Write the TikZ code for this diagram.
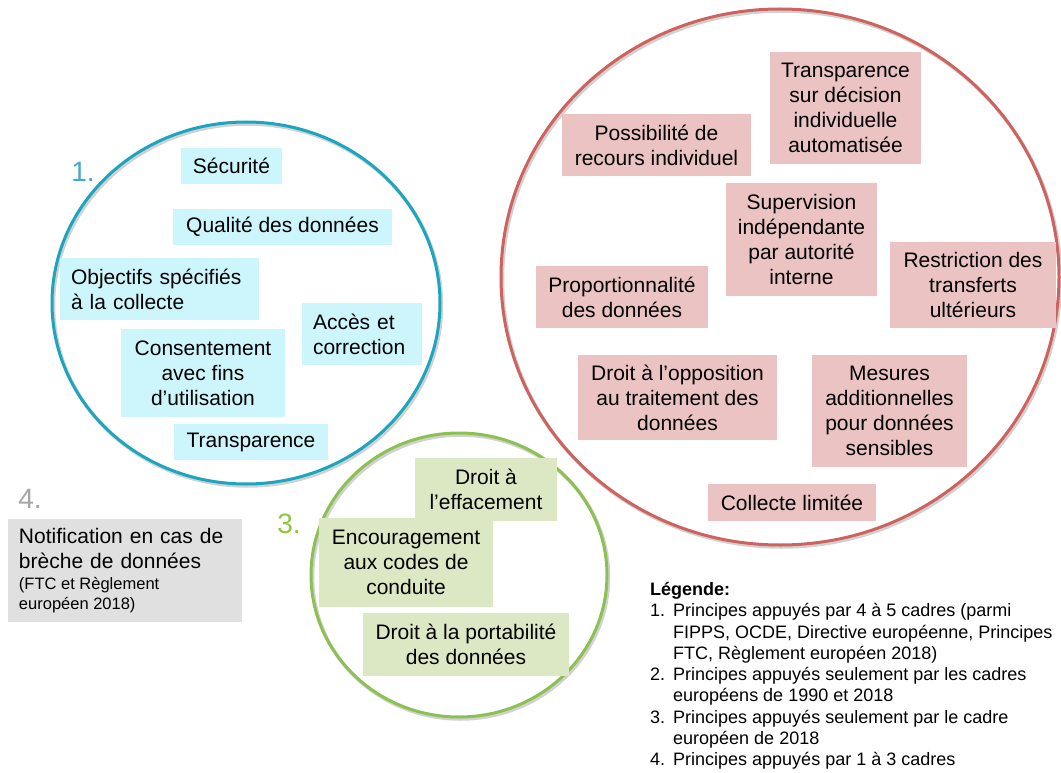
\documentclass[tikz,border=0pt]{standalone}
\usepackage{fontspec}
\setmainfont{Liberation Sans}
\definecolor{bluefill}{HTML}{CCF6FC}
\definecolor{greenfill}{HTML}{DCE8C4}
\definecolor{redfill}{HTML}{EBC3C3}
\definecolor{grayfill}{HTML}{E0E0E0}
\definecolor{blueline}{HTML}{1BA6BD}
\definecolor{greenline}{HTML}{8CC152}
\definecolor{redline}{HTML}{CD625E}
\definecolor{bluelabel}{HTML}{45A9CB}
\definecolor{greenlabel}{HTML}{8DC63F}
\definecolor{graylabel}{HTML}{A6A6A6}
\begin{document}
\begin{tikzpicture}[x=1pt,y=-1pt,
  box/.style={inner sep=0pt, align=center, text=black, font=\fontsize{21}{25}\selectfont},
  leftbox/.style={box, inner xsep=11pt, align=left},
  bluebox/.style={box, fill=bluefill},
  greenbox/.style={box, fill=greenfill},
  redbox/.style={box, fill=redfill},
  graybox/.style={leftbox, fill=grayfill},
  ring/.style={line width=3pt},
  ringshadow/.style={line width=3.5pt, draw=black, opacity=0.18},
  numlabel/.style={inner sep=0pt, font=\fontsize{28}{30}\selectfont}]

\useasboundingbox (0,0) rectangle (1061,773);

% soft shadows under the three rings
\draw[ringshadow] (247.5,305) ellipse [x radius=194pt, y radius=181pt];
\draw[ringshadow] (460.5,577) ellipse [x radius=148pt, y radius=142pt];
\draw[ringshadow] (781.5,279) ellipse [x radius=279pt, y radius=268pt];

% rings
\draw[ring, draw=blueline]  (246,303) ellipse [x radius=194pt, y radius=181pt];
\draw[ring, draw=greenline] (459,575) ellipse [x radius=148pt, y radius=142pt];
\draw[ring, draw=redline]   (780,277) ellipse [x radius=279pt, y radius=268pt];

% group numbers
\node[numlabel, text=bluelabel]  (n1) at (83,172) {1.};
\node[numlabel, text=greenlabel] (n3) at (289,524) {3.};
\node[numlabel, text=graylabel]  (n4) at (30,499) {4.};

% group 1
\node[bluebox, minimum width=101pt, minimum height=36pt] (secu) at (231.5,166) {Sécurité};
\node[bluebox, minimum width=219pt, minimum height=36pt] (qual) at (282.5,227) {Qualité des données};
\node[bluebox, leftbox, text width=177pt, minimum height=62pt] (obj) at (159.5,289) {Objectifs spécifiés\\à la collecte};
\node[bluebox, leftbox, text width=98pt, minimum height=62pt] (acces) at (362,334) {Accès et\\correction};
\node[bluebox, minimum width=164pt, minimum height=88pt] (consent) at (203,373) {Consentement\\avec fins\\d’utilisation};
\node[bluebox, minimum width=154pt, minimum height=36pt] (transp) at (251,442) {Transparence};

% group 4
\node[graybox, text width=212pt, minimum height=103pt] (notif) at (125,570.5)
  {Notification en cas de\\brèche de données\\[-4pt]%
   \parbox[t]{212pt}{\raggedright\spaceskip=0pt\xspaceskip=0pt
     \fontsize{16.5}{20}\selectfont(FTC et Règlement\\européen 2018)}};

% group 3
\node[greenbox, minimum width=142pt, minimum height=63pt] (eff) at (486,489.5) {Droit à\\l’effacement};
\node[greenbox, minimum width=174pt, minimum height=89pt] (enc) at (406,562.5) {Encouragement\\aux codes de\\conduite};
\node[greenbox, minimum width=206pt, minimum height=63pt] (port) at (466,644.5) {Droit à la portabilité\\des données};

% group 2
\node[redbox, minimum width=151pt, minimum height=112pt] (auto) at (845.5,108) {Transparence\\sur décision\\individuelle\\automatisée};
\node[redbox, minimum width=189pt, minimum height=62pt] (recours) at (656.5,145) {Possibilité de\\recours individuel};
\node[redbox, minimum width=151pt, minimum height=113pt] (superv) at (801.5,239.5) {Supervision\\indépendante\\par autorité\\interne};
\node[redbox, minimum width=166pt, minimum height=86pt] (restr) at (973,285) {Restriction des\\transferts\\ultérieurs};
\node[redbox, minimum width=172pt, minimum height=62pt] (prop) at (622,297) {Proportionnalité\\des données};
\node[redbox, minimum width=199pt, minimum height=85pt] (opp) at (677.5,397.5) {Droit à l’opposition\\au traitement des\\données};
\node[redbox, minimum width=155pt, minimum height=112pt] (mes) at (889.5,411) {Mesures\\additionnelles\\pour données\\sensibles};
\node[redbox, minimum width=168pt, minimum height=37pt] (coll) at (792,502.5) {Collecte limitée};

% legend
\node[inner sep=0pt, anchor=north west, align=left, text=black,
      font=\fontsize{18}{21.3}\selectfont] (legend) at (650,582)
  {\textbf{Légende:}\\
   \makebox[23pt][l]{1.}Principes appuyés par 4 à 5 cadres (parmi\\
   \hspace*{23pt}FIPPS, OCDE, Directive européenne, Principes\\
   \hspace*{23pt}FTC, Règlement européen 2018)\\
   \makebox[23pt][l]{2.}Principes appuyés seulement par les cadres\\
   \hspace*{23pt}européens de 1990 et 2018\\
   \makebox[23pt][l]{3.}Principes appuyés seulement par le cadre\\
   \hspace*{23pt}européen de 2018\\
   \makebox[23pt][l]{4.}Principes appuyés par 1 à 3 cadres};
\end{tikzpicture}
\end{document}
